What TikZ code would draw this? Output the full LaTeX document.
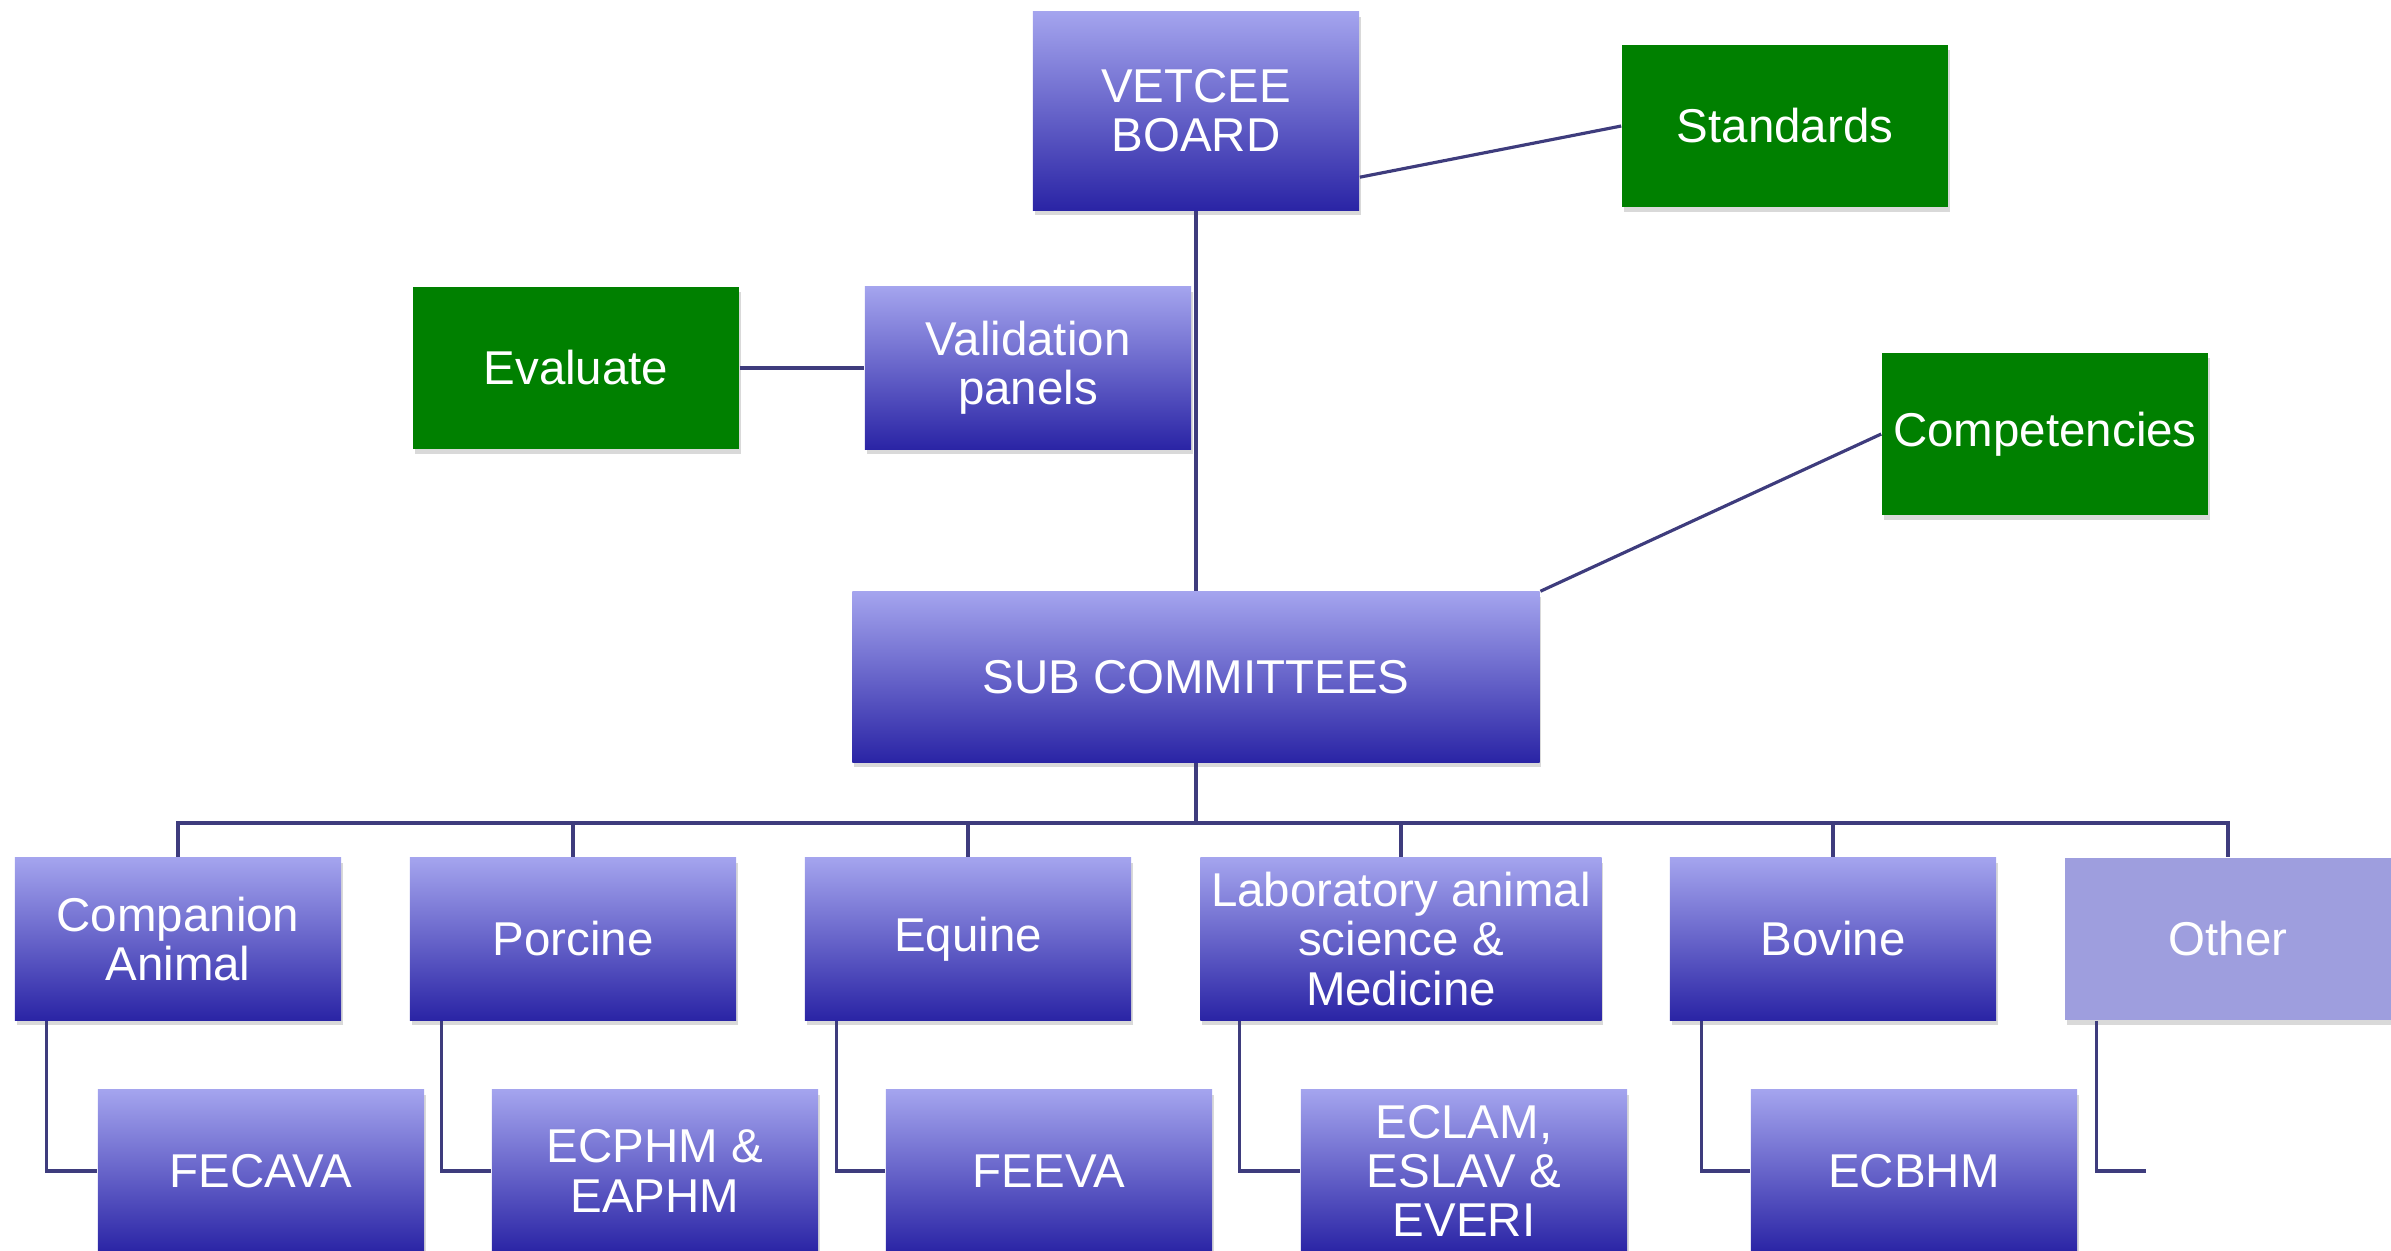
\documentclass[tikz,border=0pt]{standalone}
\usepackage{fontspec}
\setmainfont{Liberation Sans}
\usetikzlibrary{positioning,shadows,calc}
\definecolor{haut}{RGB}{164,164,238}
\definecolor{bas}{RGB}{42,36,165}
\definecolor{herbe}{RGB}{0,128,0}
\definecolor{lavande}{RGB}{158,158,222}
\definecolor{trait}{RGB}{62,60,125}
\tikzstyle{boite}=[rectangle,minimum width=3.26cm,minimum height=1.62cm,inner sep=1pt,align=center,text=white,font=\fontsize{13.5}{14}\selectfont,drop shadow={shadow xshift=0.5pt,shadow yshift=-1.5pt,opacity=0.3}]
\tikzstyle{bleu}=[boite,top color=haut,bottom color=bas]
\tikzstyle{vert}=[boite,fill=herbe]
\tikzstyle{pale}=[boite,fill=lavande]
\tikzstyle{lien}=[draw=trait,line width=0.9pt]

\begin{document}
\begin{tikzpicture}[x=0.01cm,y=-0.01cm]
\useasboundingbox (0,0) rectangle (2391,1250);
\clip (0,0) rectangle (2391,1250);

\node[bleu,minimum height=1.98cm] (board) at (1196,111) {VETCEE\\BOARD};
\node[vert] (std) at (1785,126) {Standards};
\node[vert] (eval) at (576,368) {Evaluate};
\node[bleu] (valid) at (1028,368) {Validation\\panels};
\node[vert] (cpt) at (2045,434) {Competencies};
\node[bleu,minimum width=6.87cm,minimum height=1.7cm] (sub) at (1196,677) {SUB COMMITTEES};

\node[bleu] (compa) at (178,939) {Companion\\Animal};
\node[bleu] (porc) at (573,939) {Porcine};
\node[bleu] (equi) at (968,939) {Equine};
\node[bleu,minimum width=4.01cm] (labo) at (1401,939) {Laboratory animal\\science \&\\Medicine};
\node[bleu] (bovi) at (1833,939) {Bovine};
\node[pale] (autre) at (2228,939) {Other};

\node[bleu] (fec) at (261,1171) {FECAVA};
\node[bleu] (ecp) at (655,1171) {ECPHM \&\\EAPHM};
\node[bleu] (fee) at (1049,1171) {FEEVA};
\node[bleu] (ecl) at (1464,1171) {ECLAM,\\ESLAV \&\\EVERI};
\node[bleu] (ecb) at (1914,1171) {ECBHM};
\coordinate (fin) at (2146,1171);
\coordinate (bus) at (1196,823);

\draw[lien] (board.south) -- (sub.north);
\draw[lien] (board.-22.5) -- (std.west);
\draw[lien] (eval.east) -- (valid.west);
\draw[lien] (sub.north east) -- (cpt.west);
\foreach \n in {compa,porc,equi,labo,bovi,autre}
  \draw[lien] (sub.south) |- (bus -| \n.north) -- (\n.north);
\foreach \a/\b in {compa/fec,porc/ecp,equi/fee,bovi/ecb}
  \draw[lien] ($(\a.south west)+(32,0)$) |- (\b.west);
\draw[lien] ($(labo.south west)+(40,0)$) |- (ecl.west);
\draw[lien] ($(autre.south west)+(32,0)$) |- (fin);

\end{tikzpicture}
\end{document}
